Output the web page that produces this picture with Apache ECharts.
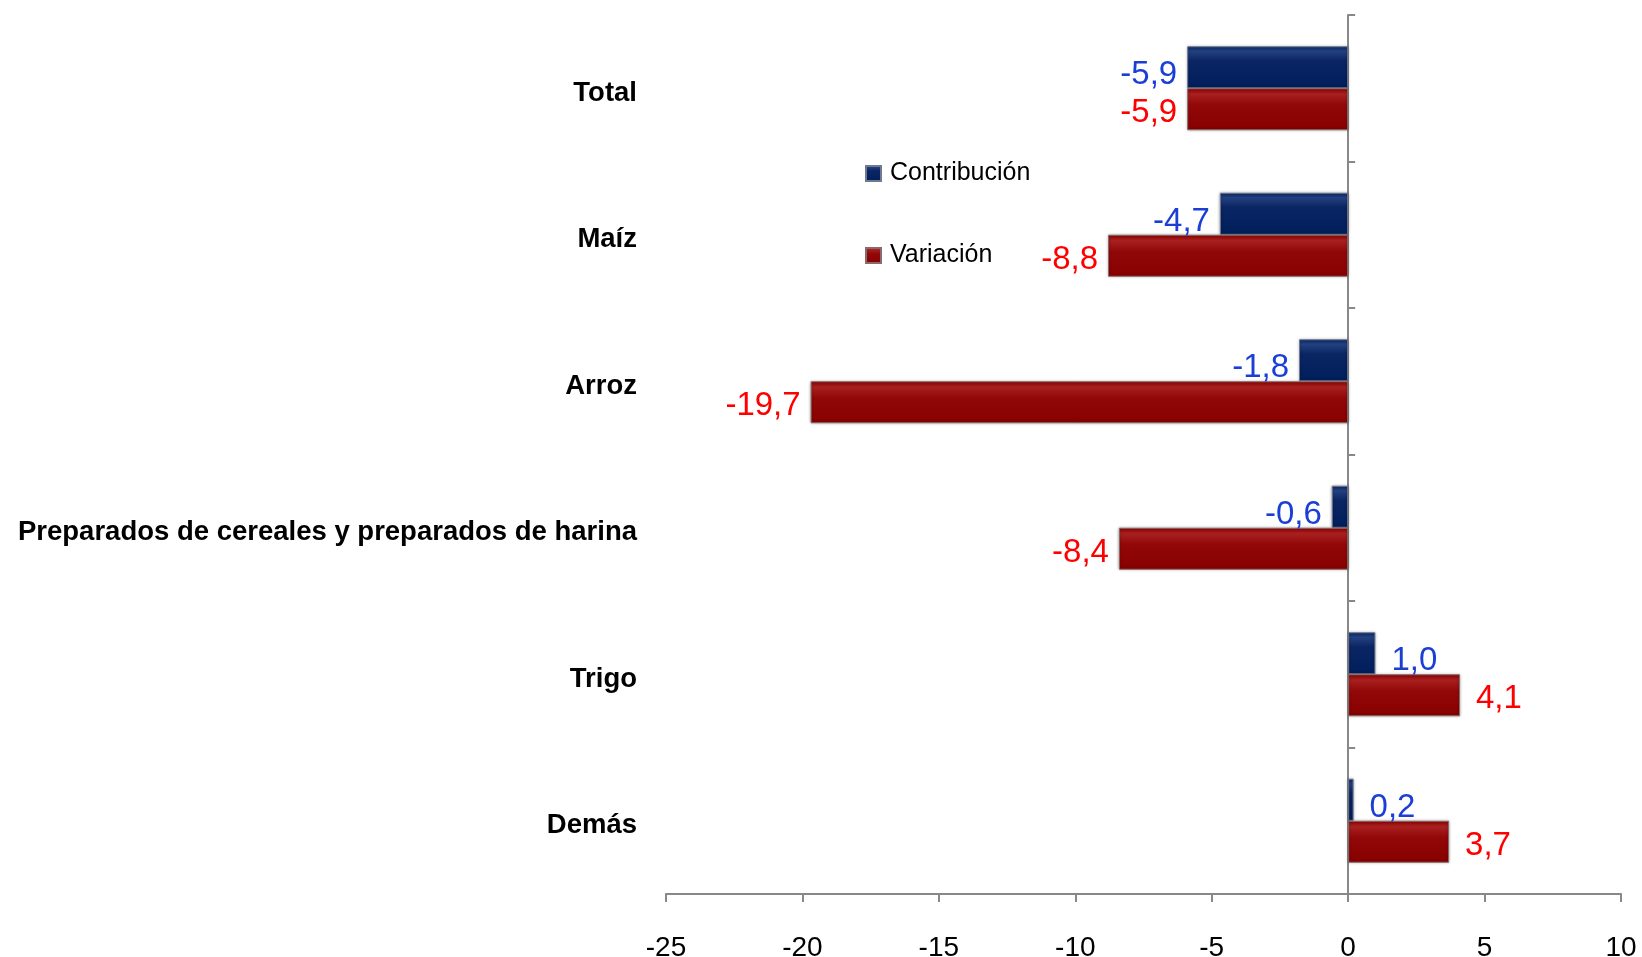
<!DOCTYPE html>
<html>
<head>
<meta charset="utf-8">
<script src="https://cdn.jsdelivr.net/npm/echarts@6/dist/echarts.min.js"></script>
<style>
  html, body { margin: 0; padding: 0; background: #fff; }
  #container { width: 1642px; height: 957px; }
</style>
</head>
<body>
<div id="container"></div>
<script>
// datos
var categorias = ['Total', 'Maíz', 'Arroz', 'Preparados de cereales y preparados de harina', 'Trigo', 'Demás'];
var contribucion = [-5.9, -4.7, -1.8, -0.6, 1.0, 0.2];
var variacion = [-5.9, -8.8, -19.7, -8.4, 4.1, 3.7];
var ticksX = [-25, -20, -15, -10, -5, 0, 5, 10];

function fmt(v) {
  return v.toFixed(1).replace('.', ',');
}

// etiqueta a la izquierda si es negativo, a la derecha si es positivo
function conEtiqueta(arr) {
  return arr.map(function (v) {
    return {
      value: v,
      label: { position: v < 0 ? 'left' : 'right', distance: v < 0 ? 10 : 16 }
    };
  });
}

var myChart = echarts.init(document.getElementById('container'));
var option = {
  animation: false,
  textStyle: { fontFamily: 'Liberation Sans' },
  legend: {
    orient: 'vertical',
    left: 865,
    top: 161,
    padding: 0,
    itemWidth: 15,
    itemHeight: 15,
    itemGap: 57,
    icon: 'rect',
    textStyle: { fontSize: 25, color: '#000', padding: [0, 0, 0, 4] },
    data: ['Contribución', 'Variación']
  },
  grid: {
    left: 666,
    right: 21,
    top: 15,
    bottom: 63,
    containLabel: false,
    outerBoundsMode: 'none'
  },
  xAxis: {
    type: 'value',
    min: ticksX[0],
    max: ticksX[ticksX.length - 1],
    interval: 5,
    splitLine: { show: false },
    axisLine: { show: true, lineStyle: { color: '#888', width: 2 } },
    axisTick: { show: true, length: 8, lineStyle: { color: '#888', width: 2 } },
    axisLabel: {
      fontSize: 28,
      color: '#000',
      margin: 40
    }
  },
  yAxis: [
    {
      // solo etiquetas de categoría
      type: 'category',
      inverse: true,
      position: 'left',
      data: categorias,
      axisLine: { show: false, onZero: false },
      axisTick: { show: false },
      axisLabel: {
        fontSize: 27.5,
        fontWeight: 'bold',
        color: '#000',
        margin: 29,
        verticalAlign: 'top',
        lineHeight: 10
      }
    },
    {
      // línea vertical en cero con marcas
      type: 'category',
      inverse: true,
      data: categorias,
      axisLine: { show: true, onZero: true, lineStyle: { color: '#888', width: 2 } },
      axisTick: { show: true, inside: false, length: 7, lineStyle: { color: '#888', width: 2 } },
      axisLabel: { show: false }
    }
  ],
  series: [
    {
      name: 'Contribución',
      type: 'bar',
      barWidth: 42,
      barGap: '0%',
      data: conEtiqueta(contribucion),
      itemStyle: {
        color: new echarts.graphic.LinearGradient(0, 0, 0, 1, [
          { offset: 0, color: '#0a2666' },
          { offset: 0.12, color: '#23417f' },
          { offset: 0.35, color: '#0b2563' },
          { offset: 1, color: '#001f5c' }
        ]),
        borderColor: '#6f7a90',
        borderWidth: 1,
        shadowColor: 'rgba(0,0,0,0.35)',
        shadowBlur: 3
      },
      label: {
        show: true,
        fontSize: 33,
        color: '#1b3fd6',
        offset: [0, 8],
        formatter: function (p) { return fmt(p.value); }
      }
    },
    {
      name: 'Variación',
      type: 'bar',
      barWidth: 42,
      data: conEtiqueta(variacion),
      itemStyle: {
        color: new echarts.graphic.LinearGradient(0, 0, 0, 1, [
          { offset: 0, color: '#8c0000' },
          { offset: 0.14, color: '#a82020' },
          { offset: 0.4, color: '#920808' },
          { offset: 1, color: '#880000' }
        ]),
        borderColor: '#8a6a6a',
        borderWidth: 1,
        shadowColor: 'rgba(0,0,0,0.35)',
        shadowBlur: 3
      },
      label: {
        show: true,
        fontSize: 33,
        color: '#ff0000',
        offset: [0, 4],
        formatter: function (p) { return fmt(p.value); }
      }
    }
  ]
};
myChart.setOption(option);
</script>
</body>
</html>
